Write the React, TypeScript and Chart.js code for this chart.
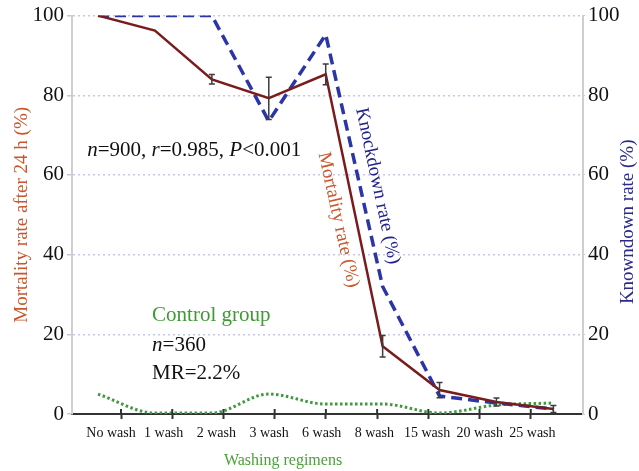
import React, { useEffect, useRef } from "react";
import { Chart, registerables } from "chart.js";

Chart.register(...registerables);

const categories = ["No wash", "1 wash", "2 wash", "3 wash", "6 wash", "8 wash", "15 wash", "20 wash", "25 wash"];
const mortality = [100, 96.25, 84, 79.25, 85.25, 17, 6, 3, 1.25];
const mortalityErr = [0, 0, 1.2, 5.3, 2.6, 2.7, 1.9, 1, 0.9];
const knockdown = [100, 100, 100, 73.5, 95.25, 32, 4.5, 2.75, 1.25];
const control = [5, 0.25, 0.25, 5, 2.5, 2.5, 0.25, 2.25, 2.75];

const SERIF = "'Liberation Serif', 'DejaVu Serif', serif";

const pts = (arr: number[]) => arr.map((y, i) => ({ x: i, y }));

function drawRich(ctx: CanvasRenderingContext2D, parts: [string, boolean][], x: number, y: number, size: number, color: string) {
  ctx.fillStyle = color;
  ctx.textBaseline = "middle";
  ctx.textAlign = "left";
  let cx = x;
  for (const [t, it] of parts) {
    ctx.font = `${it ? "italic " : ""}${size}px ${SERIF}`;
    ctx.fillText(t, cx, y);
    cx += ctx.measureText(t).width;
  }
}

const annotations = {
  id: "annotations",
  afterDatasetsDraw(chart: any) {
    const { ctx, scales } = chart;
    const xs = scales.x, ys = scales.y;
    ctx.save();
    ctx.strokeStyle = "#3c3c3c";
    ctx.lineWidth = 1.5;
    mortality.forEach((v, i) => {
      const e = mortalityErr[i];
      if (!e) return;
      const px = xs.getPixelForValue(i);
      const t = ys.getPixelForValue(v + e);
      const b = ys.getPixelForValue(v - e);
      ctx.beginPath();
      ctx.moveTo(px, t); ctx.lineTo(px, b);
      ctx.moveTo(px - 3, t); ctx.lineTo(px + 3, t);
      ctx.moveTo(px - 3, b); ctx.lineTo(px + 3, b);
      ctx.stroke();
    });
    // upper half of the x tick marks (crossing the axis line)
    const xt = scales.xt;
    ctx.strokeStyle = "#333";
    ctx.lineWidth = 2;
    categories.forEach((_, i) => {
      const px = xt.getPixelForValue(i);
      ctx.beginPath();
      ctx.moveTo(px, xt.top);
      ctx.lineTo(px, xt.top - 5);
      ctx.stroke();
    });
    ctx.restore();
  },
  afterDraw(chart: any) {
    const { ctx, scales } = chart;
    const xs = scales.x, ys = scales.y;
    const X = (v: number) => xs.getPixelForValue(v);
    const Y = (v: number) => ys.getPixelForValue(v);
    ctx.save();
    drawRich(ctx, [["n", true], ["=900, ", false], ["r", true], ["=0.985, ", false], ["P", true], ["<0.001", false]], X(-0.19), Y(66.25), 21, "#111");
    drawRich(ctx, [["Control group", false]], X(0.95), Y(24.75), 21, "#3f9a35");
    drawRich(ctx, [["n", true], ["=360", false]], X(0.95), Y(17.25), 21, "#111");
    drawRich(ctx, [["MR=2.2%", false]], X(0.95), Y(10.25), 21, "#111");

    const rot = (text: string, cx: number, cy: number, deg: number, color: string, size: number) => {
      ctx.save();
      ctx.translate(cx, cy);
      ctx.rotate((deg * Math.PI) / 180);
      ctx.font = `${size}px ${SERIF}`;
      ctx.fillStyle = color;
      ctx.textAlign = "center";
      ctx.textBaseline = "middle";
      ctx.fillText(text, 0, 0);
      ctx.restore();
    };
    rot("Mortality rate (%)", X(4.22), Y(48.75), 77.5, "#c9572b", 19);
    rot("Knockdown rate (%)", X(4.91), Y(57.25), 78, "#23238a", 19);

    const ca = chart.chartArea;
    rot("Knowndown rate (%)", 628, (ca.top + ca.bottom) / 2 + 7, -90, "#2a2a8c", 19);

    ctx.font = `16px ${SERIF}`;
    ctx.fillStyle = "#4aa03a";
    ctx.textAlign = "center";
    ctx.textBaseline = "middle";
    ctx.fillText("Washing regimens", 283, 461);
    ctx.restore();
  },
};

export default function App() {
  const ref = useRef<HTMLCanvasElement>(null);
  useEffect(() => {
    Chart.defaults.font.family = SERIF;
    const tickSet = (axis: any) => {
      axis.ticks = categories.map((_, i) => ({ value: i }));
    };
    const chart = new Chart(ref.current!, {
      type: "line",
      data: {
        datasets: [
          {
            label: "Mortality rate (%)",
            data: pts(mortality),
            borderColor: "#7a1c1c",
            borderWidth: 2.5,
            pointRadius: 0,
            order: 1,
            yAxisID: "y",
            xAxisID: "x",
          },
          {
            label: "Knockdown rate (%)",
            data: pts(knockdown),
            borderColor: "#2b35a6",
            borderWidth: 3.5,
            borderDash: [11, 6],
            pointRadius: 0,
            order: 2,
            yAxisID: "y",
            xAxisID: "x",
          },
          {
            label: "Control group",
            data: pts(control),
            borderColor: "#3d9a3d",
            borderWidth: 3,
            borderDash: [2.5, 2.5],
            cubicInterpolationMode: "monotone",
            pointRadius: 0,
            order: 3,
            yAxisID: "y",
            xAxisID: "x",
          },
        ],
      },
      options: {
        responsive: false,
        animation: false,
        devicePixelRatio: 1,
        layout: { padding: { top: 14, left: 0, right: 0, bottom: 0 } },
        plugins: { legend: { display: false }, tooltip: { enabled: false } },
        scales: {
          x: { type: "linear", display: false, min: -0.457, max: 8.52 },
          xt: {
            type: "linear",
            position: "bottom",
            weight: 0,
            min: -0.957,
            max: 9.02,
            afterBuildTicks: tickSet,
            ticks: { display: false },
            grid: { drawOnChartArea: false, drawTicks: true, tickLength: 5, tickColor: "#333", tickWidth: 2, color: "#333" },
            border: { display: true, color: "#333", width: 2 },
            afterFit: (axis: any) => { axis.height = 8; },
          },
          xl: {
            type: "linear",
            position: "bottom",
            weight: 1,
            min: -0.74,
            max: 8.96,
            afterBuildTicks: tickSet,
            ticks: {
              autoSkip: false,
              maxRotation: 0,
              padding: 3,
              color: "#111",
              font: { size: 14, family: SERIF },
              callback: (v: any) => categories[v as number] ?? "",
            },
            grid: { display: false, drawTicks: false },
            border: { display: false },
            afterFit: (axis: any) => { axis.height = 49; },
          },
          y: {
            type: "linear",
            position: "left",
            min: 0,
            max: 100,
            ticks: { stepSize: 20, color: "#111", padding: 3, font: { size: 21, family: SERIF } },
            grid: { color: "#c4c7ee", lineWidth: 1.5, tickLength: 5, tickColor: "#c8c8c8", tickWidth: 1.5 },
            border: { display: true, color: "#cfcfcf", width: 2, dash: [2, 3] },
            title: {
              display: true,
              text: "Mortality rate after 24 h (%)",
              color: "#c9572b",
              font: { size: 19, family: SERIF },
              padding: { top: 11, bottom: 0 },
            },
            afterFit: (axis: any) => { axis.width = 72; },
          },
          y2: {
            type: "linear",
            position: "right",
            min: 0,
            max: 100,
            ticks: { stepSize: 20, color: "#111", padding: 3, font: { size: 21, family: SERIF } },
            grid: { drawOnChartArea: false, tickLength: 2, tickColor: "#c8c8c8" },
            border: { display: true, color: "#cfcfcf", width: 2 },
            afterFit: (axis: any) => { axis.width = 56; },
          },
        },
      },
      plugins: [annotations],
    });
    return () => chart.destroy();
  }, []);
  return (
    <div style={{ position: "absolute", left: 0, top: 0, width: 639, height: 471, background: "#fff" }}>
      <canvas ref={ref} width={639} height={471} style={{ display: "block" }} />
    </div>
  );
}
